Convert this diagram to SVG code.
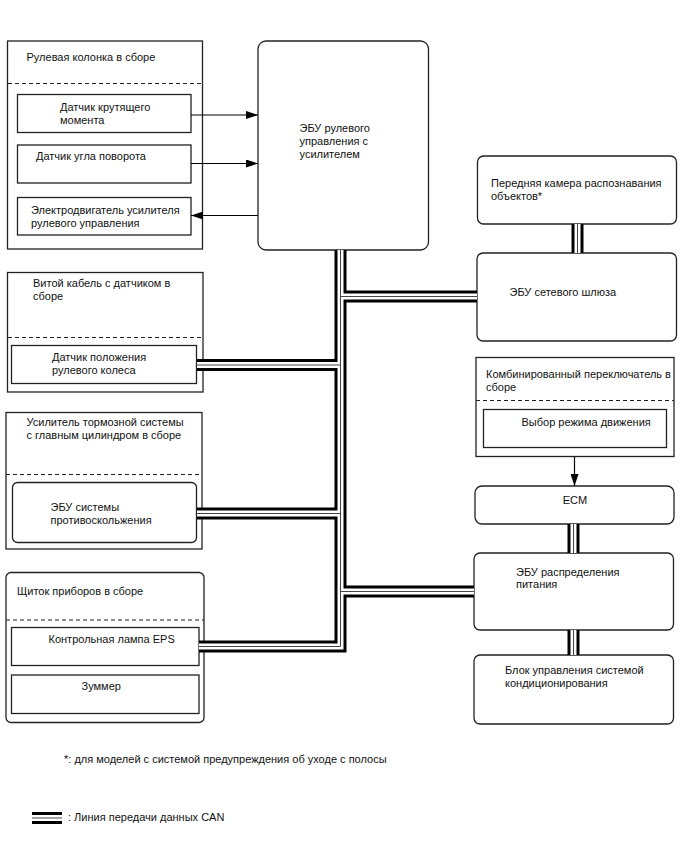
<svg xmlns="http://www.w3.org/2000/svg" width="688" height="852" viewBox="0 0 688 852">
<defs>
<style>
text{font-family:"Liberation Sans",Arial,sans-serif;font-size:11px;fill:#111}
.box{fill:#fff;stroke:#222;stroke-width:1.3}
.dash{fill:none;stroke:#222;stroke-width:1.2;stroke-dasharray:4 3}
.bk{fill:none;stroke:#000;stroke-width:12;stroke-linejoin:miter}
.wh{fill:none;stroke:#fff;stroke-width:6;stroke-linejoin:miter}
.ct{fill:none;stroke:#444;stroke-width:1}
.arr{fill:none;stroke:#000;stroke-width:1.2}
</style>
<marker id="ah" viewBox="0 0 12 8" refX="12" refY="4" markerWidth="12" markerHeight="8" markerUnits="userSpaceOnUse" orient="auto">
<path d="M0,0 L12,4 L0,8 z" fill="#000"/>
</marker>
</defs>

<g id="steering-column">
<rect class="box" x="7.5" y="41" width="195" height="208"/>
<text x="26.5" y="61">Рулевая колонка в сборе</text>
<line class="dash" x1="8" y1="83.5" x2="202" y2="83.5"/>
</g>
<g id="torque-sensor">
<rect class="box" x="17.5" y="94.5" width="173.5" height="38"/>
<text x="60" y="111">Датчик крутящего</text>
<text x="60" y="124">момента</text>
</g>
<g id="angle-sensor">
<rect class="box" x="17.5" y="145" width="173.5" height="38"/>
<text x="36" y="160">Датчик угла поворота</text>
</g>
<g id="eps-motor">
<rect class="box" x="17.5" y="197.5" width="173.5" height="37.5"/>
<text x="31" y="214">Электродвигатель усилителя</text>
<text x="31" y="226.5">рулевого управления</text>
</g>

<g id="eps-ecu">
<rect class="box" x="258" y="41" width="170.5" height="209" rx="8"/>
<text x="299.5" y="132">ЭБУ рулевого</text>
<text x="299.5" y="145">управления с</text>
<text x="299.5" y="158">усилителем</text>
</g>

<g id="spiral-cable">
<rect class="box" x="7.5" y="272.5" width="195.5" height="119.5"/>
<text x="33" y="287">Витой кабель с датчиком в</text>
<text x="33" y="299.5">сборе</text>
<line class="dash" x1="8" y1="337.5" x2="203" y2="337.5"/>
</g>
<g id="steering-angle-sensor">
<rect class="box" x="11.5" y="345.5" width="185" height="38"/>
<text x="52" y="361">Датчик положения</text>
<text x="52" y="374">рулевого колеса</text>
</g>

<g id="brake-booster">
<rect class="box" x="6" y="412.5" width="196" height="136.5"/>
<text x="26.5" y="426">Усилитель тормозной системы</text>
<text x="26.5" y="438.5">с главным цилиндром в сборе</text>
<line class="dash" x1="6" y1="474.5" x2="202" y2="474.5"/>
</g>
<g id="skid-control-ecu">
<rect class="box" x="12.5" y="482.5" width="184" height="60" rx="5"/>
<text x="50.5" y="511">ЭБУ системы</text>
<text x="50.5" y="524">противоскольжения</text>
</g>

<g id="combination-meter">
<rect class="box" x="6" y="572.5" width="198" height="150" rx="5"/>
<text x="17" y="594.5">Щиток приборов в сборе</text>
<line class="dash" x1="6" y1="620" x2="204" y2="620"/>
</g>
<g id="eps-warning-light">
<rect class="box" x="11.5" y="627.5" width="187.5" height="38"/>
<text x="48.5" y="643">Контрольная лампа EPS</text>
</g>
<g id="buzzer">
<rect class="box" x="11.5" y="675" width="187.5" height="38.5"/>
<text x="81.5" y="690">Зуммер</text>
</g>

<g id="front-camera">
<rect class="box" x="477.5" y="156" width="199" height="68" rx="6"/>
<text x="491" y="187">Передняя камера распознавания</text>
<text x="491" y="200">объектов*</text>
</g>
<g id="gateway-ecu">
<rect class="box" x="477" y="253" width="199.5" height="88" rx="6"/>
<text x="509.5" y="296">ЭБУ сетевого шлюза</text>
</g>

<g id="combination-switch">
<rect class="box" x="476" y="357.5" width="198" height="99"/>
<text x="486" y="378">Комбинированный переключатель в</text>
<text x="486" y="391">сборе</text>
<line class="dash" x1="476" y1="400.5" x2="674" y2="400.5"/>
</g>
<g id="drive-mode-select">
<rect class="box" x="483.5" y="409.5" width="183" height="38"/>
<text x="521.5" y="426">Выбор режима движения</text>
</g>

<g id="ecm">
<rect class="box" x="475" y="486" width="199" height="38" rx="7"/>
<text x="575" y="504" text-anchor="middle">ECM</text>
</g>
<g id="power-distribution-ecu">
<rect class="box" x="474" y="553" width="199.5" height="77" rx="6"/>
<text x="516" y="575.5">ЭБУ распределения</text>
<text x="516" y="588">питания</text>
</g>
<g id="ac-amplifier">
<rect class="box" x="474" y="655" width="199.5" height="69" rx="6"/>
<text x="505" y="674">Блок управления системой</text>
<text x="505" y="687">кондиционирования</text>
</g>

<g id="connectors">
<g id="can-bus">
<path class="bk" d="M340.5,250 V646.5 H199"/>
<path class="bk" d="M340.5,296.5 H477"/>
<path class="bk" d="M340.5,591.5 H474"/>
<path class="bk" d="M197,365 H340.5"/>
<path class="bk" d="M197,513.5 H340.5"/>
<path class="bk" d="M577.5,224 V253"/>
<path class="bk" d="M573.5,524 V553"/>
<path class="bk" d="M573.5,630 V655"/>
<path class="wh" d="M340.5,250 V646.5 H199"/>
<path class="wh" d="M340.5,296.5 H477"/>
<path class="wh" d="M340.5,591.5 H474"/>
<path class="wh" d="M197,365 H340.5"/>
<path class="wh" d="M197,513.5 H340.5"/>
<path class="wh" d="M577.5,224 V253"/>
<path class="wh" d="M573.5,524 V553"/>
<path class="wh" d="M573.5,630 V655"/>
<path class="ct" d="M340.5,250 V646.5 H199"/>
<path class="ct" d="M340.5,296.5 H477"/>
<path class="ct" d="M340.5,591.5 H474"/>
<path class="ct" d="M197,365 H340.5"/>
<path class="ct" d="M197,513.5 H340.5"/>
<path class="ct" d="M577.5,224 V253"/>
<path class="ct" d="M573.5,524 V553"/>
<path class="ct" d="M573.5,630 V655"/>
</g>
<path class="arr" d="M191,115 H258" marker-end="url(#ah)"/>
<path class="arr" d="M191,163.5 H258" marker-end="url(#ah)"/>
<path class="arr" d="M258,215.5 H191" marker-end="url(#ah)"/>
<path class="arr" d="M574.5,457 V486" marker-end="url(#ah)"/>
</g>

<g id="notes">
<text x="64" y="763">*: для моделей с системой предупреждения об уходе с полосы</text>
<path class="bk" d="M32,818 H62"/>
<path class="wh" d="M32,818 H62"/>
<path class="ct" d="M32,818 H62"/>
<text x="68" y="821">: Линия передачи данных CAN</text>
</g>
</svg>
